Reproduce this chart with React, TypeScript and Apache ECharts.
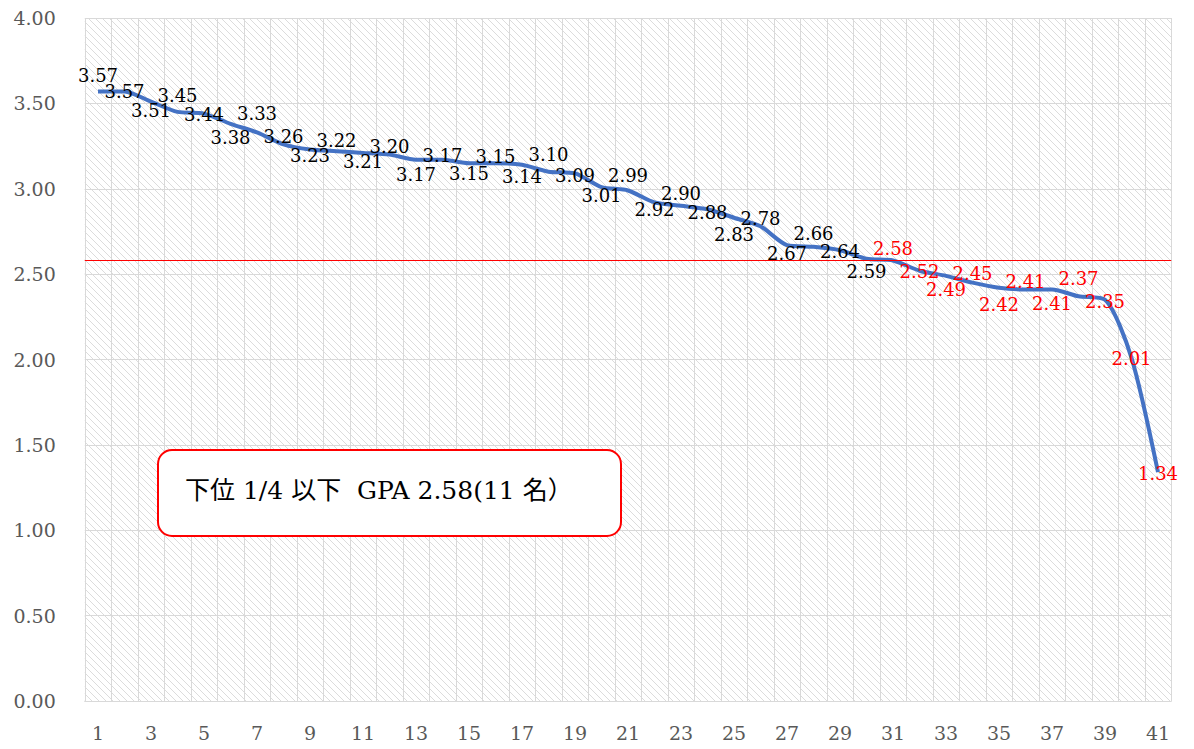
import React, { useEffect, useRef } from "react";
import * as echarts from "echarts";

const categories: string[] = Array.from({ length: 41 }, (_, i) => String(i + 1));
const gpaValues: number[] = [
  3.57, 3.57, 3.51, 3.45, 3.44, 3.38, 3.33, 3.26, 3.23, 3.22,
  3.21, 3.2, 3.17, 3.17, 3.15, 3.15, 3.14, 3.1, 3.09, 3.01,
  2.99, 2.92, 2.9, 2.88, 2.83, 2.78, 2.67, 2.66, 2.64, 2.59,
  2.58, 2.52, 2.49, 2.45, 2.42, 2.41, 2.41, 2.37, 2.35, 2.01,
  1.34,
];
const thresholdValue = 2.58;
const lowerCount = 11;
const boxText = "下位 1/4 以下  GPA 2.58(11 名）";

// label vertical offsets (style only)
const labelDy: number[] = [
  -16, 0, 9, -16, 1, 14, -19, -8, 6, -11,
  9, -8, 15, -4, 10, -7, 12, -17, 2, 8,
  -15, 7, -12, 3, 17, -8, 8, -13, 1, 13,
  -12, 1, 14, -9, 17, -8, 14, -18, 2, 1,
  1,
];

function makeHatch(): string {
  const s = 7;
  const c = document.createElement("canvas");
  c.width = s;
  c.height = s;
  const ctx = c.getContext("2d")!;
  ctx.fillStyle = "#ffffff";
  ctx.fillRect(0, 0, s, s);
  ctx.strokeStyle = "#dcdcdc";
  ctx.lineWidth = 1;
  ctx.beginPath();
  ctx.moveTo(-1, -1);
  ctx.lineTo(s + 1, s + 1);
  ctx.moveTo(-1, s - 1);
  ctx.lineTo(1, s + 1);
  ctx.moveTo(s - 1, -1);
  ctx.lineTo(s + 1, 1);
  ctx.stroke();
  return c.toDataURL();
}

export default function App() {
  const ref = useRef<HTMLDivElement>(null);
  useEffect(() => {
    if (!ref.current) return;
    const chart = echarts.init(ref.current, undefined, { renderer: "svg" });
    const font = "'DejaVu Serif', 'Noto Sans CJK JP', serif";
    const n = gpaValues.length;
    const symSize = 2;
    const data = gpaValues.map((v, i) => ({
      value: v,
      label: {
        position: [symSize / 2, symSize / 2 + labelDy[i]],
        align: "center",
        verticalAlign: "middle",
        color: i >= n - lowerCount ? "#ff0000" : "#000000",
      },
    }));
    chart.setOption({
      animation: false,
      backgroundColor: "#ffffff",
      grid: {
        left: 84.75,
        right: 22.75,
        top: 18,
        bottom: 48,
        show: true,
        backgroundColor: { image: makeHatch(), repeat: "repeat" },
        borderWidth: 0,
      },
      xAxis: {
        type: "category",
        data: categories,
        boundaryGap: true,
        axisLine: { show: true, lineStyle: { color: "#d9d9d9", width: 1 } },
        axisTick: { show: false },
        axisLabel: {
          interval: 1,
          color: "#595959",
          fontFamily: font,
          fontSize: 19,
          margin: 22,
        },
        splitLine: { show: true, interval: 0, lineStyle: { color: "#d9d9d9", width: 1 } },
      },
      yAxis: {
        type: "value",
        min: 0,
        max: 4,
        interval: 0.5,
        axisLine: { show: false },
        axisTick: { show: false },
        axisLabel: {
          color: "#595959",
          fontFamily: font,
          fontSize: 19,
          margin: 29,
          formatter: (v: number) => v.toFixed(2),
        },
        splitLine: { show: true, lineStyle: { color: "#d9d9d9", width: 1 } },
      },
      series: [
        {
          type: "line",
          data,
          smooth: 0.25,
          symbol: "circle",
          symbolSize: symSize,
          showSymbol: true,
          itemStyle: { color: "transparent", borderWidth: 0 },
          lineStyle: { color: "#4472c4", width: 4 },
          label: {
            show: true,
            fontFamily: font,
            fontSize: 18,
            formatter: (p: any) => Number(p.value).toFixed(2),
          },
          labelLayout: { hideOverlap: false },
          markLine: {
            silent: true,
            symbol: "none",
            label: { show: false },
            lineStyle: { color: "#ff0000", width: 1, type: "solid" },
            data: [{ yAxis: thresholdValue }],
          },
          z: 3,
        },
      ],
      graphic: [
        {
          type: "rect",
          left: 157,
          top: 449,
          shape: { width: 463, height: 86, r: 14 },
          style: { fill: "#ffffff", stroke: "#ff0000", lineWidth: 2 },
          z: 10,
        },
        {
          type: "text",
          left: 185,
          top: 478,
          style: {
            text: boxText,
            fill: "#000000",
            font: `25px ${font}`,
          },
          z: 11,
        },
      ],
    });
    return () => chart.dispose();
  }, []);
  return (
    <div
      ref={ref}
      style={{ position: "fixed", left: 0, top: 0, width: 1194, height: 749 }}
    />
  );
}
